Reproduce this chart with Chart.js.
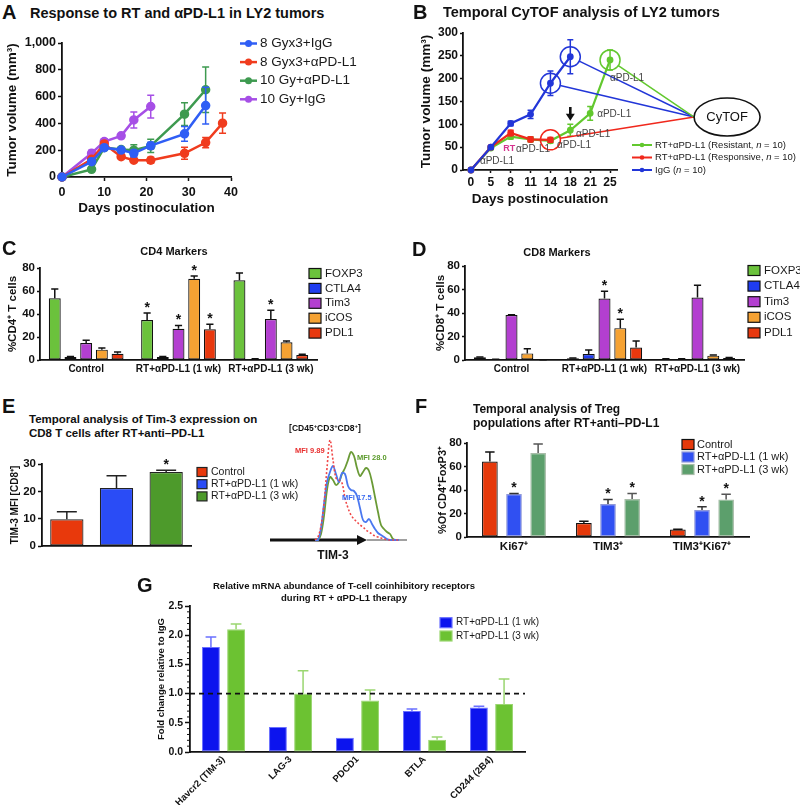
<!DOCTYPE html>
<html>
<head>
<meta charset="utf-8">
<title>RT + anti-PD-L1 in LY2 tumors</title>
<script src="https://cdn.jsdelivr.net/npm/chart.js@4.4.1/dist/chart.umd.min.js"></script>
<style>
  html, body { margin: 0; background: #fff; }
  #fig { position: relative; width: 800px; height: 805px; overflow: hidden; font-family: Arial, "Liberation Sans", Helvetica, sans-serif; color: #111; }
  #fig canvas { position: absolute; }
  .t { position: absolute; white-space: nowrap; font-weight: bold; line-height: 1.2; }
  .t sup { font-size: 0.7em; vertical-align: 0.45em; line-height: 0; }
</style>
</head>
<body>
<div id="fig"></div>
<script>
// ---------- A: tumor growth ----------
const daysA = [0, 7, 10, 14, 17, 21, 29, 34, 38];
const seriesA = ['8 Gyx3+IgG', '8 Gyx3+αPD-L1', '10 Gy+αPD-L1', '10 Gy+IgG'];
const igg8 = [0, 114, 219, 201, 177, 234, 322, 533];
const igg8Err = [0, 15, 20, 15, 25, 25, 55, 137];
const pdl8 = [0, 132, 247, 152, 125, 125, 177, 257, 402];
const pdl8Err = [0, 15, 18, 10, 12, 22, 45, 38, 75];
const pdl10 = [0, 57, 220, 205, 200, 232, 469, 651];
const pdl10Err = [0, 10, 20, 15, 40, 50, 85, 170];
const igg10 = [0, 177, 264, 307, 426, 526];
const igg10Err = [0, 22, 22, 10, 60, 85];

// ---------- B: CyTOF time course ----------
const daysB = [0, 5, 8, 11, 14, 18, 21, 25];
const seriesB = ['RT+αPD-L1 (Resistant, n = 10)', 'RT+αPD-L1 (Responsive, n = 10)', 'IgG (n = 10)'];
const resistant = [0, 48, 73, 67, 64, 87, 124, 241];
const resistantErr = [0, 3, 5, 5, 5, 13, 15, 22];
const responsive = [0, 50, 81, 67, 66];
const responsiveErr = [0, 3, 6, 5, 5];
const iggB = [0, 50, 102, 122, 190, 248];
const iggBErr = [0, 3, 5, 9, 27, 37];

// ---------- C / D: marker panels ----------
const treatments = ['Control', 'RT+αPD-L1 (1 wk)', 'RT+αPD-L1 (3 wk)'];
const markers = ['FOXP3', 'CTLA4', 'Tim3', 'iCOS', 'PDL1'];
const cd4Foxp3 = [53.6, 34.8, 69.3], cd4Foxp3Err = [8.1, 6.1, 6.4];
const cd4Ctla4 = [2.6, 2.6, 0.9],    cd4Ctla4Err = [0.5, 0.5, 0.2];
const cd4Tim3 = [14.8, 27.2, 35.7],  cd4Tim3Err = [2.3, 2.7, 7.5];
const cd4Icos = [9.0, 70.7, 15.4],   cd4IcosErr = [1.4, 2.3, 1.1];
const cd4Pdl1 = [5.5, 26.7, 4.3],    cd4Pdl1Err = [1.5, 4.3, 0.6];
const cd4Stars = [[0, 1, 0], [0, 0, 0], [0, 1, 1], [0, 1, 0], [0, 1, 0]];
const cd8Foxp3 = [2.3, 1.5, 0.8],    cd8Foxp3Err = [0.3, 0.3, 0.2];
const cd8Ctla4 = [0.5, 5.1, 0.8],    cd8Ctla4Err = [0.2, 3.4, 0.2];
const cd8Tim3 = [38.2, 52.3, 53.1],  cd8Tim3Err = [0.4, 6.2, 10.5];
const cd8Icos = [5.6, 27.1, 3.7],    cd8IcosErr = [4.0, 7.6, 0.5];
const cd8Pdl1 = [0.2, 10.7, 1.7],    cd8Pdl1Err = [0.1, 5.4, 0.4];
const cd8Stars = [[0, 0, 0], [0, 0, 0], [0, 1, 0], [0, 1, 0], [0, 0, 0]];

// ---------- E: Tim-3 MFI + flow overlay ----------
const tim3Mfi = [9.8, 21.2, 27.1];
const tim3MfiErr = [2.7, 4.5, 0.6];
const tim3Stars = [0, 0, 1];
const flowChannel = [45, 48, 51, 54, 57, 60, 63, 66, 69, 72, 75, 78, 81, 84, 87, 90, 93, 96, 99, 102, 105, 108, 111, 114, 117, 120, 123, 126, 129];
const flowControl = [0, 3, 14, 36, 72, 100, 80, 62, 60, 57, 42, 32, 25, 21, 18, 15, 13, 10, 8, 6, 4, 3, 2, 1, 0.5, 0, 0, 0, 0];
const flowWk1 = [0, 0, 12, 36, 58, 68, 74, 66, 58, 67, 66, 54, 50, 49, 44, 32, 20, 18, 21, 16, 11, 7, 5, 3, 1, 0, 0, 0, 0];
const flowWk3 = [0, 0, 6, 24, 50, 63, 60, 55, 58, 66, 72, 80, 88, 84, 72, 64, 68, 72, 69, 58, 43, 28, 15, 11, 8, 6, 1, 0, 0];
const flowArrowEnd = 97;

// ---------- F: Treg populations ----------
const tregGroups = ['Ki67⁺', 'TIM3⁺', 'TIM3⁺Ki67⁺'];
const tregControl = [64.3, 11.9, 6.3], tregControlErr = [8.0, 1.5, 0.3];
const tregWk1 = [36.6, 28.0, 22.9],    tregWk1Err = [0.5, 4.0, 2.8];
const tregWk3 = [71.4, 32.3, 32.0],    tregWk3Err = [7.8, 4.8, 4.3];
const tregStars = [[0, 0, 0], [1, 1, 1], [0, 1, 1]];

// ---------- G: mRNA fold change ----------
const genes = ['Havcr2 (TIM-3)', 'LAG-3', 'PDCD1', 'BTLA', 'CD244 (2B4)'];
const foldWk1 = [1.80, 0.43, 0.245, 0.70, 0.76];
const foldWk1Err = [0.17, 0, 0, 0.035, 0.025];
const foldWk3 = [2.10, 1.00, 0.88, 0.21, 0.82];
const foldWk3Err = [0.09, 0.39, 0.18, 0.045, 0.43];
const foldBaseline = 1.0;

// colours
const colA = ['#2f5ef5', '#f03c1e', '#3e9a50', '#a64fe6'];
const colB = ['#62c82e', '#f0281c', '#2236d8'];
const colMarkers = ['#6bc23c', '#1f3cf0', '#b33fd0', '#f5a233', '#e8380e'];
const colE = ['#e8390c', '#2a4cf6', '#4d9a2b'];
const colF = ['#e5390b', '#3050f2', '#5c9f6c'];
const colG = ['#0c14ee', '#6cc232'];

const fig = document.getElementById('fig');
const FONT = 'Arial, "Liberation Sans", Helvetica, sans-serif';
const INK = '#111';
const bold = size => ({ family: FONT, size: size, weight: 'bold' });

Chart.defaults.animation = false;
Chart.defaults.responsive = false;
Chart.defaults.devicePixelRatio = 1;
Chart.defaults.events = [];
Chart.defaults.font.family = FONT;
Chart.defaults.color = INK;
Chart.defaults.plugins.legend.display = false;
Chart.defaults.plugins.tooltip.enabled = false;

// canvas placed so that the chart area lands on the given page rectangle
function place(box, area) {
  const cv = document.createElement('canvas');
  cv.width = box[2]; cv.height = box[3];
  cv.style.left = box[0] + 'px'; cv.style.top = box[1] + 'px';
  fig.appendChild(cv);
  return {
    cv, ox: box[0], oy: box[1],
    padding: { left: 0, top: area[1] - box[1], right: box[0] + box[2] - area[2], bottom: 0 },
    yw: area[0] - box[0],
    xh: box[1] + box[3] - area[3]
  };
}

function txt(html, x, y, css, center) {
  const d = document.createElement('div');
  d.className = 't';
  d.innerHTML = html;
  d.style.cssText = css;
  d.style.left = x + 'px'; d.style.top = y + 'px';
  d.style.transform = center ? 'translate(-50%,-50%)' : 'translateY(-50%)';
  fig.appendChild(d);
}

function yAxis(P, o) {
  const ticks = { stepSize: o.step, font: bold(o.size), color: INK, padding: o.pad ?? 2 };
  if (o.cb) ticks.callback = o.cb;
  return {
    type: 'linear', min: o.min, max: o.max,
    afterFit: s => { s.width = P.yw; },
    border: { color: INK, width: 1.8 },
    grid: { drawOnChartArea: false, color: INK, tickLength: o.tick ?? 4, tickWidth: 1.5 },
    ticks,
    title: { display: true, text: o.title, font: bold(o.tsize), color: INK, padding: { top: o.tpad, bottom: 0 } }
  };
}

function catAxis(P, o) {
  return {
    type: 'category',
    afterFit: s => { s.height = P.xh; },
    border: { color: INK, width: 1.8 },
    grid: { display: false, drawTicks: false },
    ticks: { display: o.show !== false, font: bold(o.size || 10), color: INK, padding: o.pad ?? 3,
             autoSkip: false, minRotation: o.rot || 0, maxRotation: o.rot || 0 }
  };
}

function richText(ctx, s, x, y, font) {
  s.split(/(\bn\b)/).forEach(part => {
    ctx.font = (part === 'n' ? 'italic ' : '') + font;
    ctx.fillText(part, x, y);
    x += ctx.measureText(part).width;
  });
}

// legend drawn at fixed page coordinates
function legendAt(P, cfg) {
  return {
    id: 'legendAt',
    afterDraw(chart) {
      const ctx = chart.ctx;
      const x0 = cfg.x - P.ox;
      ctx.save();
      ctx.textBaseline = 'middle'; ctx.textAlign = 'left';
      cfg.items.forEach((it, k) => {
        const y = cfg.y - P.oy + k * cfg.dy;
        if (cfg.kind === 'line') {
          ctx.strokeStyle = it.color; ctx.lineWidth = cfg.lw;
          ctx.beginPath(); ctx.moveTo(x0, y); ctx.lineTo(x0 + cfg.len, y); ctx.stroke();
          ctx.fillStyle = it.color;
          ctx.beginPath(); ctx.arc(x0 + cfg.len / 2, y, cfg.dot, 0, Math.PI * 2); ctx.fill();
        } else {
          ctx.fillStyle = it.color;
          ctx.fillRect(x0, y - cfg.bh / 2, cfg.bw, cfg.bh);
          ctx.strokeStyle = it.border; ctx.lineWidth = 1.2;
          ctx.strokeRect(x0, y - cfg.bh / 2, cfg.bw, cfg.bh);
        }
        ctx.fillStyle = '#1a1a1a';
        richText(ctx, it.label, x0 + cfg.tx, y, cfg.font);
      });
      ctx.restore();
    }
  };
}

// error bars (+ significance stars) read from dataset.errors / dataset.stars
Chart.register({
  id: 'errorBars',
  afterDatasetDraw(chart, args) {
    const ds = chart.data.datasets[args.index];
    if (!ds.errors) return;
    const ctx = chart.ctx, ys = chart.scales.y;
    ctx.save();
    ctx.strokeStyle = ds.errorColor || ds.borderColor;
    ctx.lineWidth = ds.errorWidth || 1.5;
    args.meta.data.forEach((el, i) => {
      const raw = ds.data[i];
      const v = typeof raw === 'object' ? raw.y : raw;
      const e = ds.errors[i] || 0;
      const hw = ds.cap || el.width * 0.3;
      const top = ys.getPixelForValue(v + e);
      const bot = ds.bothWays ? ys.getPixelForValue(v - e) : el.y;
      if (e > 0) {
        ctx.beginPath();
        ctx.moveTo(el.x, bot); ctx.lineTo(el.x, top);
        ctx.moveTo(el.x - hw, top); ctx.lineTo(el.x + hw, top);
        if (ds.bothWays) { ctx.moveTo(el.x - hw, bot); ctx.lineTo(el.x + hw, bot); }
        ctx.stroke();
      }
      if (ds.stars && ds.stars[i]) {
        ctx.fillStyle = INK; ctx.font = 'bold 14px ' + FONT;
        ctx.textAlign = 'center'; ctx.textBaseline = 'middle';
        ctx.fillText('*', el.x, top - 5);
      }
    });
    ctx.restore();
  }
});

// ================= Panel A =================
(() => {
  const P = place([0, 25, 400, 195], [62, 43, 231, 177]);
  const mk = (label, vals, errs, color) => ({
    label, data: vals.map((v, i) => ({ x: daysA[i], y: v })), errors: errs, bothWays: true, cap: 3.5,
    borderColor: color, backgroundColor: color, pointBackgroundColor: color, pointBorderColor: color,
    borderWidth: 2.5, pointRadius: 3.5, clip: false
  });
  const datasets = [
    mk(seriesA[0], igg8, igg8Err, colA[0]),
    mk(seriesA[1], pdl8, pdl8Err, colA[1]),
    mk(seriesA[2], pdl10, pdl10Err, colA[2]),
    mk(seriesA[3], igg10, igg10Err, colA[3])
  ];
  new Chart(P.cv, {
    type: 'line',
    data: { datasets },
    options: {
      layout: { padding: P.padding },
      scales: {
        x: {
          type: 'linear', min: 0, max: 40,
          afterFit: s => { s.height = P.xh; },
          border: { color: INK, width: 1.8 },
          grid: { drawOnChartArea: false, color: INK, tickLength: 4, tickWidth: 1.5 },
          ticks: { stepSize: 10, font: bold(12.5), color: INK, padding: 4 },
          title: { display: true, text: 'Days postinoculation', font: bold(13.5), color: INK, padding: { top: 0, bottom: 3.6 } }
        },
        y: yAxis(P, { min: 0, max: 1000, step: 200, size: 12.5, cb: v => v.toLocaleString('en-US'),
                      title: 'Tumor volume (mm³)', tsize: 13.5, tpad: 4 })
      }
    },
    plugins: [legendAt(P, { kind: 'line', x: 240, y: 43.5, dy: 18.6, len: 17, lw: 2.5, dot: 3.5, tx: 20,
      font: '13.5px ' + FONT, items: datasets.map(d => ({ label: d.label, color: d.borderColor })) })]
  });
})();

// ================= Panel B =================
const bCircled = [{ s: 2, i: 4 }, { s: 2, i: 5 }, { s: 1, i: 4 }, { s: 0, i: 7 }];
const bHub = { i: 11.23, v: 116 };
const bNotes = [
  { t: 'αPD-L1', i: 0.45, v: 20 }, { t: 'RT', i: 1.62, v: 48, color: '#d6338f', bold: true, size: 9 },
  { t: 'αPD-L1', i: 2.27, v: 46 }, { t: 'αPD-L1', i: 4.33, v: 55 }, { t: 'αPD-L1', i: 5.29, v: 79 },
  { t: 'αPD-L1', i: 6.35, v: 123 }, { t: 'αPD-L1', i: 7.0, v: 200 }
];
const bArrow = { i: 5, from: 138, to: 108 };
(() => {
  const P = place([400, 20, 400, 195], [463, 33, 617, 170]);
  const mk = (label, vals, errs, color, order) => ({
    label, data: vals.map((v, i) => ({ x: i, y: v })), errors: errs, bothWays: true, cap: 3, order,
    borderColor: color, backgroundColor: color, pointBackgroundColor: color, pointBorderColor: color,
    borderWidth: 2.2, pointRadius: 2.3, clip: false
  });
  const datasets = [
    mk(seriesB[0], resistant, resistantErr, colB[0], 2),
    mk(seriesB[1], responsive, responsiveErr, colB[1], 1),
    mk(seriesB[2], iggB, iggBErr, colB[2], 0)
  ];
  const overlay = {
    id: 'cytof',
    afterDatasetsDraw(chart) {
      const { ctx, scales: { x, y } } = chart;
      const X = i => x.getPixelForValue(i), Y = v => y.getPixelForValue(v);
      const hx = X(bHub.i), hy = Y(bHub.v);
      ctx.save();
      ctx.lineWidth = 1.5;
      bCircled.forEach(c => {
        const ds = chart.data.datasets[c.s];
        const cx = X(c.i), cy = Y(ds.data[c.i].y);
        const dx = hx - cx, dy = hy - cy, d = Math.hypot(dx, dy);
        ctx.strokeStyle = ds.borderColor;
        ctx.beginPath(); ctx.arc(cx, cy, 10, 0, Math.PI * 2); ctx.stroke();
        ctx.beginPath(); ctx.moveTo(cx + dx / d * 10, cy + dy / d * 10); ctx.lineTo(hx, hy); ctx.stroke();
      });
      ctx.strokeStyle = INK; ctx.lineWidth = 1.6;
      ctx.beginPath(); ctx.ellipse(hx + 33, hy, 33, 19, 0, 0, Math.PI * 2); ctx.stroke();
      ctx.fillStyle = INK; ctx.font = '13px ' + FONT; ctx.textAlign = 'center'; ctx.textBaseline = 'middle';
      ctx.fillText('CyTOF', hx + 33, hy);
      ctx.textAlign = 'left';
      bNotes.forEach(n => {
        ctx.font = (n.bold ? 'bold ' : '') + (n.size || 10) + 'px ' + FONT;
        ctx.fillStyle = n.color || '#444';
        ctx.fillText(n.t, X(n.i), Y(n.v));
      });
      const ax = X(bArrow.i), y0 = Y(bArrow.from), y1 = Y(bArrow.to);
      ctx.strokeStyle = INK; ctx.fillStyle = INK; ctx.lineWidth = 2.6;
      ctx.beginPath(); ctx.moveTo(ax, y0); ctx.lineTo(ax, y1 - 5); ctx.stroke();
      ctx.beginPath(); ctx.moveTo(ax, y1); ctx.lineTo(ax - 4.5, y1 - 7); ctx.lineTo(ax + 4.5, y1 - 7); ctx.closePath(); ctx.fill();
      ctx.restore();
    }
  };
  new Chart(P.cv, {
    type: 'line',
    data: { datasets },
    options: {
      layout: { padding: P.padding },
      scales: {
        x: {
          type: 'linear', min: -0.4, max: 7.35,
          afterFit: s => { s.height = P.xh; },
          afterBuildTicks: s => { s.ticks = daysB.map((d, i) => ({ value: i })); },
          border: { color: INK, width: 1.8 },
          grid: { drawOnChartArea: false, color: INK, tickLength: 3, tickWidth: 1.5 },
          ticks: { font: bold(12), color: INK, padding: 2, callback: v => daysB[v] },
          title: { display: true, text: 'Days postinoculation', font: bold(13.5), color: INK, padding: { top: 0, bottom: 7.6 } }
        },
        y: yAxis(P, { min: 0, max: 300, step: 50, size: 12, tick: 3, title: 'Tumor volume (mm³)', tsize: 13.5, tpad: 18 })
      }
    },
    plugins: [overlay, legendAt(P, { kind: 'line', x: 632, y: 145, dy: 12.5, len: 20, lw: 2, dot: 2.3, tx: 23,
      font: '9.5px ' + FONT, items: datasets.map(d => ({ label: d.label, color: d.borderColor })) })]
  });
})();

// ================= Panels C and D =================
function markerChart(box, area, vals, errs, stars, yTitle, tpad, leg) {
  const P = place(box, area);
  const datasets = markers.map((m, k) => ({
    label: m, data: vals[k], errors: errs[k], stars: stars[k],
    backgroundColor: colMarkers[k], borderColor: INK, borderWidth: 1.2, borderSkipped: false,
    errorColor: INK, categoryPercentage: 0.85, barPercentage: 0.76
  }));
  new Chart(P.cv, {
    type: 'bar',
    data: { labels: treatments, datasets },
    options: {
      layout: { padding: P.padding },
      scales: {
        x: catAxis(P, { size: 10, pad: 3 }),
        y: yAxis(P, { min: 0, max: 80, step: 20, size: 11.5, tick: 3, title: yTitle, tsize: 11.5, tpad })
      }
    },
    plugins: [legendAt(P, { kind: 'box', x: leg[0], y: leg[1], dy: leg[2], bw: 12, bh: 10, tx: 16,
      font: '11.5px ' + FONT, items: datasets.map(d => ({ label: d.label, color: d.backgroundColor, border: INK })) })]
  });
}
markerChart([0, 240, 400, 145], [40, 268, 317, 360],
  [cd4Foxp3, cd4Ctla4, cd4Tim3, cd4Icos, cd4Pdl1],
  [cd4Foxp3Err, cd4Ctla4Err, cd4Tim3Err, cd4IcosErr, cd4Pdl1Err],
  cd4Stars, '%CD4⁺ T cells', 6, [309, 273.5, 14.9]);
markerChart([400, 240, 400, 145], [465, 266, 744, 360],
  [cd8Foxp3, cd8Ctla4, cd8Tim3, cd8Icos, cd8Pdl1],
  [cd8Foxp3Err, cd8Ctla4Err, cd8Tim3Err, cd8IcosErr, cd8Pdl1Err],
  cd8Stars, '%CD8⁺ T cells', 34, [748, 270.5, 15.6]);

// ================= Panel E (bars) =================
(() => {
  const P = place([0, 445, 300, 115], [42, 464, 191, 546]);
  new Chart(P.cv, {
    type: 'bar',
    data: { labels: treatments, datasets: [{
      label: 'TIM-3 MFI', data: tim3Mfi, errors: tim3MfiErr, stars: tim3Stars,
      backgroundColor: colE, borderColor: '#222', borderWidth: 1.2, borderSkipped: false,
      errorColor: '#222', categoryPercentage: 1, barPercentage: 0.67
    }] },
    options: {
      layout: { padding: P.padding },
      scales: {
        x: catAxis(P, { show: false }),
        y: yAxis(P, { min: 0, max: 30, step: 10, size: 11.5, title: 'TIM-3 MFI [CD8⁺]', tsize: 10, tpad: 9 })
      }
    },
    plugins: [legendAt(P, { kind: 'box', x: 197, y: 472, dy: 12.2, bw: 10, bh: 9, tx: 14, font: '10.5px ' + FONT,
      items: treatments.map((t, i) => ({ label: t, color: colE[i], border: '#222' })) })]
  });
})();

// ================= Panel E (flow overlay) =================
(() => {
  const box = [262, 420, 150, 140];
  const cv = document.createElement('canvas');
  cv.width = box[2]; cv.height = box[3];
  cv.style.left = box[0] + 'px'; cv.style.top = box[1] + 'px';
  fig.appendChild(cv);
  const curve = (label, vals, color, dash, w) => ({
    label, data: flowChannel.map((c, i) => ({ x: c, y: vals[i] })), borderColor: color,
    borderWidth: w, borderDash: dash, pointRadius: 0, tension: 0.35, clip: false
  });
  const flowAxis = {
    id: 'flowAxis',
    beforeDatasetsDraw(chart) {
      const { ctx, chartArea: a, scales: { x } } = chart;
      const end = x.getPixelForValue(flowArrowEnd);
      ctx.save();
      ctx.strokeStyle = '#a0a0a0'; ctx.lineWidth = 2;
      ctx.beginPath(); ctx.moveTo(end, a.bottom); ctx.lineTo(a.right, a.bottom); ctx.stroke();
      ctx.strokeStyle = INK; ctx.fillStyle = INK; ctx.lineWidth = 3;
      ctx.beginPath(); ctx.moveTo(a.left, a.bottom); ctx.lineTo(end - 6, a.bottom); ctx.stroke();
      ctx.beginPath(); ctx.moveTo(end, a.bottom); ctx.lineTo(end - 10, a.bottom - 5); ctx.lineTo(end - 10, a.bottom + 5); ctx.closePath(); ctx.fill();
      ctx.restore();
    }
  };
  new Chart(cv, {
    type: 'line',
    data: { datasets: [
      curve('Control', flowControl, '#f04848', [2, 2], 1.6),
      curve('RT+αPD-L1 (1 wk)', flowWk1, '#4a78f0', [], 1.8),
      curve('RT+αPD-L1 (3 wk)', flowWk3, '#6a9a36', [], 1.8)
    ] },
    options: {
      layout: { padding: { left: 8, top: 15, right: 5, bottom: 20 } },
      scales: {
        x: { type: 'linear', display: false, min: 0, max: 137 },
        y: { type: 'linear', display: false, min: 0, max: 105 }
      }
    },
    plugins: [flowAxis]
  });
})();

// ================= Panel F =================
(() => {
  const P = place([400, 430, 400, 130], [467, 443, 749, 537]);
  const mk = (label, vals, errs, stars, color, border, errColor) => ({
    label, data: vals, errors: errs, stars, backgroundColor: color, borderColor: border,
    borderWidth: 1.2, borderSkipped: false, errorColor: errColor, categoryPercentage: 0.77, barPercentage: 0.65
  });
  const datasets = [
    mk(treatments[0], tregControl, tregControlErr, tregStars[0], colF[0], INK, INK),
    mk(treatments[1], tregWk1, tregWk1Err, tregStars[1], colF[1], '#9098d8', '#333'),
    mk(treatments[2], tregWk3, tregWk3Err, tregStars[2], colF[2], '#a8bca8', '#555')
  ];
  new Chart(P.cv, {
    type: 'bar',
    data: { labels: tregGroups, datasets },
    options: {
      layout: { padding: P.padding },
      scales: {
        x: catAxis(P, { size: 11.5, pad: 3 }),
        y: yAxis(P, { min: 0, max: 80, step: 20, size: 11.5, tick: 3, title: '%Of CD4⁺FoxP3⁺', tsize: 11, tpad: 36 })
      }
    },
    plugins: [legendAt(P, { kind: 'box', x: 682, y: 444.5, dy: 12.5, bw: 12, bh: 10, tx: 15, font: '11px ' + FONT,
      items: datasets.map(d => ({ label: d.label, color: d.backgroundColor, border: d.borderColor })) })]
  });
})();

// ================= Panel G =================
(() => {
  const P = place([110, 575, 440, 230], [190, 606, 525, 752]);
  const mk = (label, vals, errs, color, light) => ({
    label, data: vals, errors: errs, backgroundColor: color, borderColor: light, borderWidth: 1,
    borderSkipped: false, errorColor: light, categoryPercentage: 0.75, barPercentage: 0.71
  });
  const datasets = [
    mk(treatments[1], foldWk1, foldWk1Err, colG[0], '#6a70ff'),
    mk(treatments[2], foldWk3, foldWk3Err, colG[1], '#9ad670')
  ];
  const extras = {
    id: 'gExtras',
    afterDatasetsDraw(chart) {
      const { ctx, chartArea: a, scales: { y } } = chart;
      ctx.save();
      ctx.strokeStyle = INK; ctx.lineWidth = 1.6; ctx.setLineDash([5, 4]);
      const yy = y.getPixelForValue(foldBaseline);
      ctx.beginPath(); ctx.moveTo(a.left, yy); ctx.lineTo(a.right, yy); ctx.stroke();
      ctx.setLineDash([]); ctx.lineWidth = 1;
      for (let k = 1; k < 25; k++) {
        if (k % 5 === 0) continue;
        const ty = y.getPixelForValue(k / 10);
        ctx.beginPath(); ctx.moveTo(a.left - 3, ty); ctx.lineTo(a.left, ty); ctx.stroke();
      }
      ctx.restore();
    }
  };
  new Chart(P.cv, {
    type: 'bar',
    data: { labels: genes, datasets },
    options: {
      layout: { padding: P.padding },
      scales: {
        x: catAxis(P, { size: 9.5, pad: 2, rot: 45 }),
        y: yAxis(P, { min: 0, max: 2.5, step: 0.5, size: 10.5, tick: 5, cb: v => v.toFixed(1),
                      title: 'Fold change relative to IgG', tsize: 9.5, tpad: 46 })
      }
    },
    plugins: [extras, legendAt(P, { kind: 'box', x: 440, y: 622.7, dy: 13.3, bw: 12, bh: 10, tx: 16, font: '10px ' + FONT,
      items: datasets.map(d => ({ label: d.label, color: d.backgroundColor, border: d.borderColor })) })]
  });
})();

// ================= titles, panel letters, annotations =================
const L = 'font-size:20px;';
txt('A', 2, 12, L); txt('B', 413, 12, L); txt('C', 2, 248, L); txt('D', 412, 249, L);
txt('E', 2, 406, L); txt('F', 415, 406, L); txt('G', 137, 585, L);
txt('Response to RT and αPD-L1 in LY2 tumors', 30, 14, 'font-size:14.5px;');
txt('Temporal CyTOF analysis of LY2 tumors', 443, 13, 'font-size:14.5px;');
txt('CD4 Markers', 174, 252, 'font-size:11px;', true);
txt('CD8 Markers', 557, 253, 'font-size:11px;', true);
txt('Temporal analysis of Tim-3 expression on', 29, 420, 'font-size:11.5px;');
txt('CD8 T cells after RT+anti–PD-L1', 29, 434, 'font-size:11.5px;');
txt('[CD45<sup>+</sup>CD3<sup>+</sup>CD8<sup>+</sup>]', 325, 428, 'font-size:8.5px;', true);
txt('MFI 9.89', 295, 450, 'font-size:7.5px;color:#e83030;');
txt('MFI 28.0', 357, 457, 'font-size:7.5px;color:#5a9a2a;');
txt('MFI 17.5', 342, 497, 'font-size:7.5px;color:#3a6af0;');
txt('TIM-3', 333, 555, 'font-size:12px;', true);
txt('Temporal analysis of Treg', 473, 409, 'font-size:12px;');
txt('populations after RT+anti–PD-L1', 473, 423, 'font-size:12px;');
txt('Relative mRNA abundance of T-cell coinhibitory receptors', 344, 586, 'font-size:9.5px;', true);
txt('during RT + αPD-L1 therapy', 344, 598, 'font-size:9.5px;', true);
</script>
</body>
</html>
